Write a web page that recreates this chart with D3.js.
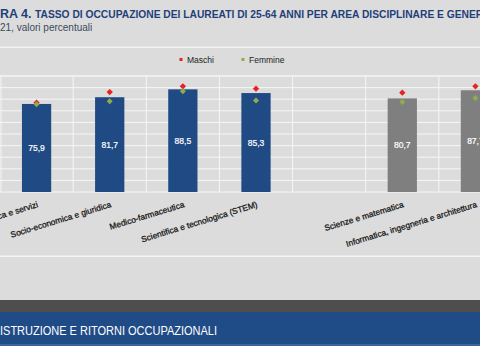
<!DOCTYPE html>
<html><head><meta charset="utf-8">
<script src="https://cdn.jsdelivr.net/npm/d3@7"></script>
<style>
html,body{margin:0;padding:0;background:#dcdcdc;overflow:hidden;}
svg{display:block;font-family:"Liberation Sans",Arial,sans-serif;}
</style></head>
<body>
<script>
const categories = ["Economica e servizi","Socio-economica e giuridica","Medico-farmaceutica","Scientifica e tecnologica (STEM)","","Scienze e matematica","Informatica, ingegneria e architettura"];
const totale  = [75.9, 81.7, 88.5, 85.3, null, 80.7, 87.7];
const maschi  = [77.0, 86.1, 91.1, 89.1, null, 85.6, 91.1];
const femmine = [75.6, 78.3, 86.8, 78.8, null, 77.6, 81.0];
const barGroup = ["area","area","area","area","","stem","stem"];
const yTicks = [0,10,20,30,40,50,60,70,80,90,100];
const labelsShown = ["ica e servizi","Socio-economica e giuridica","Medico-farmaceutica","Scientifica e tecnologica (STEM)","","Scienze e matematica","Informatica, ingegneria e architettura"];

const W = 480, H = 346;
const svg = d3.select("body").append("svg").attr("width", W).attr("height", H);
svg.append("rect").attr("width", W).attr("height", H).attr("fill", "#dcdcdc");

// Title
const t = svg.append("text").attr("x", 0).attr("y", 18).attr("fill", "#1f3f7a").attr("font-weight", "bold");
t.append("tspan").attr("font-size", 12.5).text("RA 4.");
t.append("tspan").attr("x", 35).attr("font-size", 10.25).text("TASSO DI OCCUPAZIONE DEI LAUREATI DI 25-64 ANNI PER AREA DISCIPLINARE E GENERE");
svg.append("text").attr("x", 0).attr("y", 31).attr("font-size", 10).attr("fill", "#3b4a5c").text("21, valori percentuali");
svg.append("rect").attr("x", 0).attr("y", 46.5).attr("width", W).attr("height", 1.5).attr("fill", "#f4f4f4");

// Scales
const x = d3.scaleBand().domain(d3.range(categories.length)).range([0, 512]).paddingInner(0.6).paddingOuter(0.3);
const step = x.step();
const y = d3.scaleLinear().domain([0, 100]).range([192, 76]);

// Grid
const g = svg.append("g");
g.selectAll("line.h").data(yTicks).join("line")
  .attr("x1", 0).attr("x2", 512).attr("y1", d => y(d)).attr("y2", d => y(d))
  .attr("stroke", "#f6f6f6").attr("stroke-width", d => d === 100 ? 1.6 : 1);
g.selectAll("line.v").data(d3.range(categories.length + 1)).join("line")
  .attr("x1", d => Math.max(1, d * step)).attr("x2", d => Math.max(1, d * step))
  .attr("y1", y(100)).attr("y2", y(0))
  .attr("stroke", "#f6f6f6").attr("stroke-width", 1);

// Bars
const idx = d3.range(categories.length).filter(i => totale[i] != null);
svg.selectAll("rect.bar").data(idx).join("rect")
  .attr("x", i => x(i)).attr("width", x.bandwidth())
  .attr("y", i => y(totale[i])).attr("height", i => y(0) - y(totale[i]))
  .attr("fill", i => barGroup[i] === "area" ? "#1f4a84" : "#7f7f7f");

svg.selectAll("text.val").data(idx).join("text")
  .attr("x", i => x(i) + x.bandwidth() / 2)
  .attr("y", i => (y(totale[i]) + y(0)) / 2 + 3)
  .attr("text-anchor", "middle").attr("font-size", 8.5).attr("fill", "#ffffff")
  .attr("stroke", "#ffffff").attr("stroke-width", 0.2)
  .text(i => d3.format(".1f")(totale[i]).replace(".", ","));

// Markers
const diamond = d3.symbol().type(d3.symbolSquare);
svg.selectAll("path.m").data(idx).join("path")
  .attr("d", diamond.size(20)())
  .attr("transform", i => `translate(${x(i) + x.bandwidth() / 2},${y(maschi[i])}) rotate(45)`)
  .attr("fill", "#e6231d");
svg.selectAll("path.f").data(idx).join("path")
  .attr("d", diamond.size(18)())
  .attr("transform", i => `translate(${x(i) + x.bandwidth() / 2},${y(femmine[i])}) rotate(45)`)
  .attr("fill", "#8eae4e");

// Legend
const leg = [{n: "Maschi", c: "#e6231d", x: 181}, {n: "Femmine", c: "#8eae4e", x: 243}];
leg.forEach(l => {
  svg.append("rect").attr("x", l.x - 1.5).attr("y", 58).attr("width", 3).attr("height", 3).attr("fill", l.c);
  svg.append("text").attr("x", l.x + 6).attr("y", 62.5).attr("font-size", 8.5).attr("fill", "#222").text(l.n);
});

// Category labels
svg.selectAll("text.cat").data(idx).join("text")
  .attr("transform", i => `translate(${x(i) + x.bandwidth() / 2 + 2},207) rotate(-17)`)
  .attr("text-anchor", "end").attr("font-size", 8.4).attr("fill", "#111")
  .attr("stroke", "#111").attr("stroke-width", 0.25)
  .text(i => labelsShown[i]);

// Bottom elements
svg.append("rect").attr("x", 0).attr("y", 255.5).attr("width", W).attr("height", 1.5).attr("fill", "#f4f4f4");
svg.append("rect").attr("x", 0).attr("y", 300).attr("width", W).attr("height", 12).attr("fill", "#4e4e4e");
svg.append("rect").attr("x", 0).attr("y", 312).attr("width", W).attr("height", 32).attr("fill", "#1f4b87");
svg.append("rect").attr("x", 0).attr("y", 344).attr("width", W).attr("height", 2).attr("fill", "#3c64a0");
svg.append("text").attr("x", 0).attr("y", 335).attr("font-size", 12).attr("fill", "#ffffff")
  .attr("textLength", 217).attr("lengthAdjust", "spacingAndGlyphs")
  .text("ISTRUZIONE E RITORNI OCCUPAZIONALI");
</script>
</body></html>
